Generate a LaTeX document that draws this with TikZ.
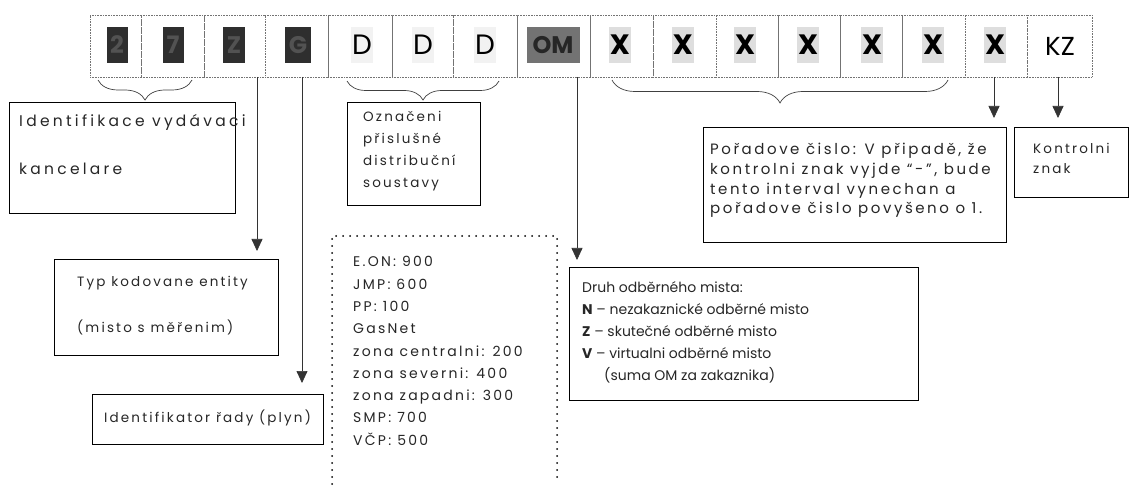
\documentclass[tikz,border=0pt]{standalone}
\usepackage{fontspec}
\setmainfont{Poppins}
\newfontfamily\lsf[LetterSpace=16]{Poppins}
\newfontfamily\lsw[LetterSpace=21]{Poppins}
\newfontfamily\lsm[LetterSpace=17]{Poppins}
\usetikzlibrary{arrows.meta,decorations.pathreplacing}
\begin{document}
\begin{tikzpicture}[x=1pt,y=-1pt]
\tikzset{
 cell/.style={draw=black!55, densely dotted, line width=0.6pt, minimum height=62pt, inner sep=0pt, outer sep=0pt},
 box/.style={draw=black, line width=0.8pt, anchor=north west, inner sep=0pt},
 txt/.style={anchor=base west, inner sep=0pt, font=\lsf\fontsize{13.5}{16}\selectfont, text=black!85},
 txtw/.style={anchor=base west, inner sep=0pt, font=\lsw\fontsize{15.5}{18}\selectfont, text=black!85},
 txtm/.style={anchor=base west, inner sep=0pt, font=\lsm\fontsize{15}{18}\selectfont, text=black!85},
 txtb/.style={anchor=base west, inner sep=0pt, font=\lsf\fontsize{14}{16}\selectfont, text=black!85},
 txtd/.style={anchor=base west, inner sep=0pt, font=\fontsize{14}{16}\selectfont, text=black!85},
 arr/.style={draw=black!80, line width=0.7pt, -{Triangle[width=11pt,length=12pt]}},
 brc/.style={draw=black!75, line width=0.7pt, decorate},
 darkblk/.style={fill=black!82, text=black!68, inner sep=0pt, minimum width=21pt, minimum height=36pt, font=\fontsize{24}{24}\selectfont\bfseries},
 dlet/.style={fill=black!5, inner sep=0pt, minimum width=22pt, minimum height=36pt, font=\fontsize{28}{28}\selectfont},
 xlet/.style={fill=black!13, inner sep=0pt, minimum width=22pt, minimum height=36pt, font=\fontsize{28}{28}\selectfont\bfseries},
 dotbox/.style={draw=black, line width=2pt, dash pattern=on 0pt off 7pt, line cap=round},
}
\useasboundingbox (0,0) rectangle (1132,486);
% cells
\foreach \l/\r/\n in {90/141/1,141/204/2,204/265/3,265/328/4,328/392/5,392/453/6,453/517/7,517/590/8,590/653/9,653/716/10,716/778/11,778/840/12,840/902/13,902/965/14,965/1027/15,1027/1092/16}
  \node[cell, minimum width={(\r-\l)*1pt}] (c\n) at ({(\l+\r)/2},46) {};
\node[darkblk] (k1) at (117,45) {2};
\node[darkblk] (k2) at (173,45) {7};
\node[darkblk, minimum width=22pt] (k3) at (234,45) {Z};
\node[darkblk, minimum width=26pt] (k4) at (298,45) {G};
\node[dlet] (d1) at (362,45) {D};
\node[dlet] (d2) at (423,45) {D};
\node[dlet] (d3) at (485,45) {D};
\node[fill=black!55, text=black!85, inner sep=0pt, minimum width=53pt, minimum height=36pt, font=\fontsize{24}{24}\selectfont\bfseries] (om) at (553,45) {OM};
\foreach \x/\n in {620/1,683/2,745/3,808/4,872/5,933/6,995/7}
  \node[xlet] (x\n) at (\x,45) {X};
\node[inner sep=0pt, font=\fontsize{26}{26}\selectfont] (kz) at (1060,46) {KZ};
% braces
\draw[brc, decoration={brace, mirror, amplitude=20pt}] (98,80) -- (192,80);
\draw[brc, decoration={brace, mirror, amplitude=19pt}] (347,81) -- (499,81);
\draw[brc, decoration={brace, mirror, amplitude=23pt}] (612,80) -- (948,80);
% boxes
\node[box, minimum width=226pt, minimum height=111pt] (b1) at (9,102) {};
\node[box, minimum width=133pt, minimum height=103pt] (bozn) at (347,102) {};
\node[box, minimum width=224pt, minimum height=96pt] (btyp) at (54,259) {};
\node[box, minimum width=231pt, minimum height=50pt] (bid) at (92,394) {};
\node[box, minimum width=303pt, minimum height=115pt] (bpor) at (703,127) {};
\node[box, minimum width=114pt, minimum height=70pt] (bkon) at (1014,127) {};
\node[box, minimum width=349pt, minimum height=133pt] (bdruh) at (569,267) {};
% dotted box
\draw[dotbox] (332,484) -- (332,236) -- (557,236) -- (557,484);
% arrows
\coordinate (a1) at (257,77);
\coordinate (a2) at (302,77);
\coordinate (a3) at (577,77);
\coordinate (a4) at (994,77);
\coordinate (a5) at (1058,77);
\draw[arr, shorten >=8pt] (a1) -- (a1 |- btyp.north);
\draw[arr, shorten >=11pt] (a2) -- (a2 |- bid.north);
\draw[arr, shorten >=7pt] (a3) -- (a3 |- bdruh.north);
\draw[arr, shorten >=9pt] (a4) -- (a4 |- bpor.north);
\draw[arr, shorten >=9pt] (a5) -- (a5 |- bkon.north);
% texts
\node[txtw] (t1a) at (19,127) {Identifikace vydávaci};
\node[txtw] (t1b) at (19,175) {kancelare};
\node[txt] (t2a) at (363,122) {Označeni};
\node[txt] (t2b) at (363,144) {přislušné};
\node[txt] (t2c) at (363,166) {distribuční};
\node[txt] (t2d) at (363,188) {soustavy};
\node[txt] (t3a) at (77,287) {Typ kodovane entity};
\node[txt] (t3b) at (77,332) {(misto s měřenim)};
\node[txt] (t4a) at (104,422) {Identifikator řady (plyn)};
\node[txtm] (t5a) at (710,155) {Pořadove čislo: V připadě, že};
\node[txtm] (t5b) at (710,175) {kontrolni znak vyjde “-”, bude};
\node[txtm] (t5c) at (710,195) {tento interval vynechan a};
\node[txtm] (t5d) at (710,214) {pořadove čislo povyšeno o 1.};
\node[txt] (t6a) at (1033,154) {Kontrolni};
\node[txt] (t6b) at (1033,174) {znak};
\foreach \t [count=\i from 0] in {E.ON: 900,JMP: 600,PP: 100,GasNet,zona centralni: 200,zona severni: 400,zona zapadni: 300,SMP: 700,VČP: 500}
  \node[txtb] (tg\i) at (353,{267+22.25*\i}) {\t};
\node[txtd] (t7a) at (582,293) {Druh odběrného mista:};
\node[txtd] (t7b) at (582,314.75) {\textbf{N} – nezakaznické odběrné misto};
\node[txtd] (t7c) at (582,336.5) {\textbf{Z} – skutečné odběrné misto};
\node[txtd] (t7d) at (582,358.25) {\textbf{V} – virtualni odběrné misto};
\node[txtd] (t7e) at (604,380) {(suma OM za zakaznika)};
\end{tikzpicture}
\end{document}
